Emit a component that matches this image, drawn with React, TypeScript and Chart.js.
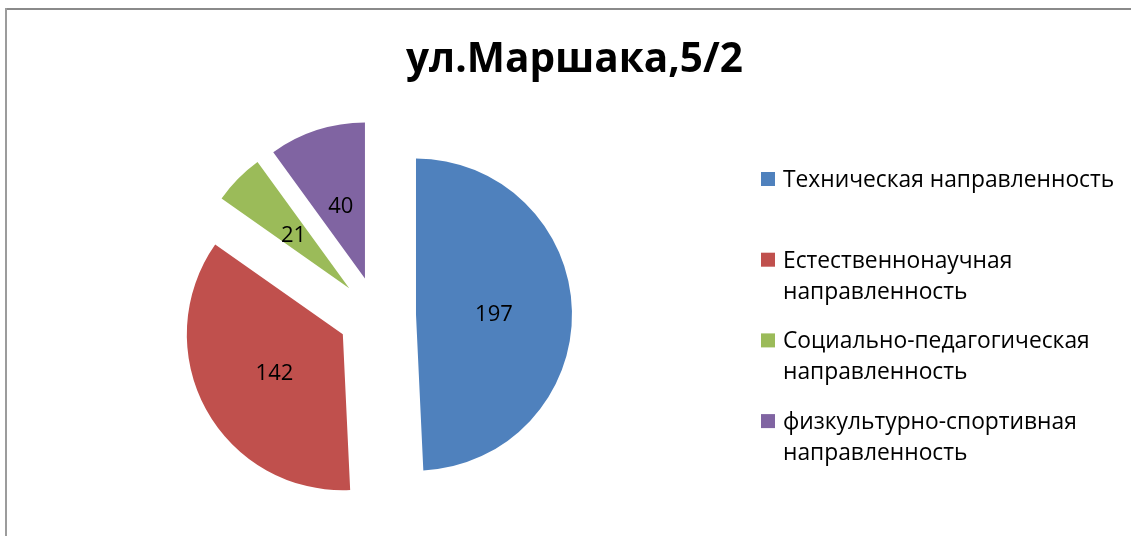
import React, { useEffect, useRef } from 'react';
import { Chart, PieController, ArcElement } from 'chart.js';

Chart.register(PieController, ArcElement);

const TITLE = 'ул.Маршака,5/2';
const categories = [
  'Техническая направленность',
  'Естественнонаучная направленность',
  'Социально-педагогическая направленность',
  'физкультурно-спортивная направленность',
];
const values = [197, 142, 21, 40];
const colors = ['#4F81BD', '#C0504D', '#9BBB59', '#8064A2'];

const W = 1131;
const H = 536;
const EXPLODE = 39;
const FONT = '"Open Sans", "Noto Sans", sans-serif';

function wrap(ctx: CanvasRenderingContext2D, text: string, maxW: number): string[] {
  const words = text.split(' ');
  const lines: string[] = [];
  let cur = '';
  for (const w of words) {
    const t = cur ? cur + ' ' + w : w;
    if (cur && ctx.measureText(t).width > maxW) {
      lines.push(cur);
      cur = w;
    } else {
      cur = t;
    }
  }
  if (cur) lines.push(cur);
  return lines;
}

const decorPlugin = {
  id: 'decor',
  beforeDraw(chart: any) {
    const { ctx, width, height } = chart;
    ctx.save();
    ctx.fillStyle = '#ffffff';
    ctx.fillRect(0, 0, width, height);
    ctx.fillStyle = '#8a8a8a';
    ctx.fillRect(5, 8, width - 5, 2);
    ctx.fillStyle = '#9c9c9c';
    ctx.fillRect(5, 8, 2, height - 8);
    ctx.restore();
  },
  beforeDatasetDraw(chart: any, args: any) {
    const ctx = chart.ctx;
    args.meta.data.forEach((el: any) => {
      const half = (el.startAngle + el.endAngle) / 2;
      ctx.save();
      ctx.translate(Math.cos(half) * EXPLODE, Math.sin(half) * EXPLODE);
      el.draw(ctx, chart.chartArea);
      ctx.restore();
    });
    return false;
  },
  afterDatasetsDraw(chart: any) {
    const ctx = chart.ctx;
    const meta = chart.getDatasetMeta(0);
    const data = chart.data.datasets[0].data;
    ctx.save();
    ctx.font = `22px ${FONT}`;
    ctx.fillStyle = '#000000';
    ctx.textAlign = 'center';
    ctx.textBaseline = 'alphabetic';
    meta.data.forEach((el: any, i: number) => {
      const half = (el.startAngle + el.endAngle) / 2;
      const d = EXPLODE + el.outerRadius / 2;
      const x = el.x + Math.cos(half) * d;
      const y = el.y + Math.sin(half) * d;
      ctx.fillText(String(data[i]), x, y + 8.5);
    });
    ctx.restore();
  },
  afterDraw(chart: any) {
    const ctx = chart.ctx;
    ctx.save();
    // title
    ctx.font = `bold 40.5px ${FONT}`;
    ctx.fillStyle = '#000000';
    ctx.textAlign = 'center';
    ctx.textBaseline = 'alphabetic';
    ctx.fillText(TITLE, 574.5, 72);
    // legend
    ctx.font = `22.8px ${FONT}`;
    ctx.textAlign = 'left';
    const labels: string[] = chart.data.labels;
    const bg: string[] = chart.data.datasets[0].backgroundColor;
    labels.forEach((label, i) => {
      const base = 187 + i * 80.7;
      ctx.fillStyle = bg[i];
      ctx.fillRect(761, base - 15, 14, 14);
      ctx.fillStyle = '#000000';
      const lines = wrap(ctx, label, 340);
      lines.forEach((ln, j) => ctx.fillText(ln, 783, base + j * 31));
    });
    ctx.restore();
  },
};

export default function App() {
  const ref = useRef<HTMLCanvasElement | null>(null);
  useEffect(() => {
    if (!ref.current) return;
    const chart = new Chart(ref.current, {
      type: 'pie',
      data: {
        labels: categories,
        datasets: [
          {
            data: values,
            backgroundColor: colors,
            borderWidth: 0,
            radius: 156,
          } as any,
        ],
      },
      options: {
        responsive: false,
        animation: false,
        events: [],
        layout: { padding: { left: 0, right: W - 754, top: 95, bottom: 0 } },
      } as any,
      plugins: [decorPlugin as any],
    });
    return () => chart.destroy();
  }, []);
  return (
    <div style={{ position: 'absolute', left: 0, top: 0, width: W, height: H }}>
      <canvas ref={ref} width={W} height={H} style={{ display: 'block', width: W, height: H }} />
    </div>
  );
}
